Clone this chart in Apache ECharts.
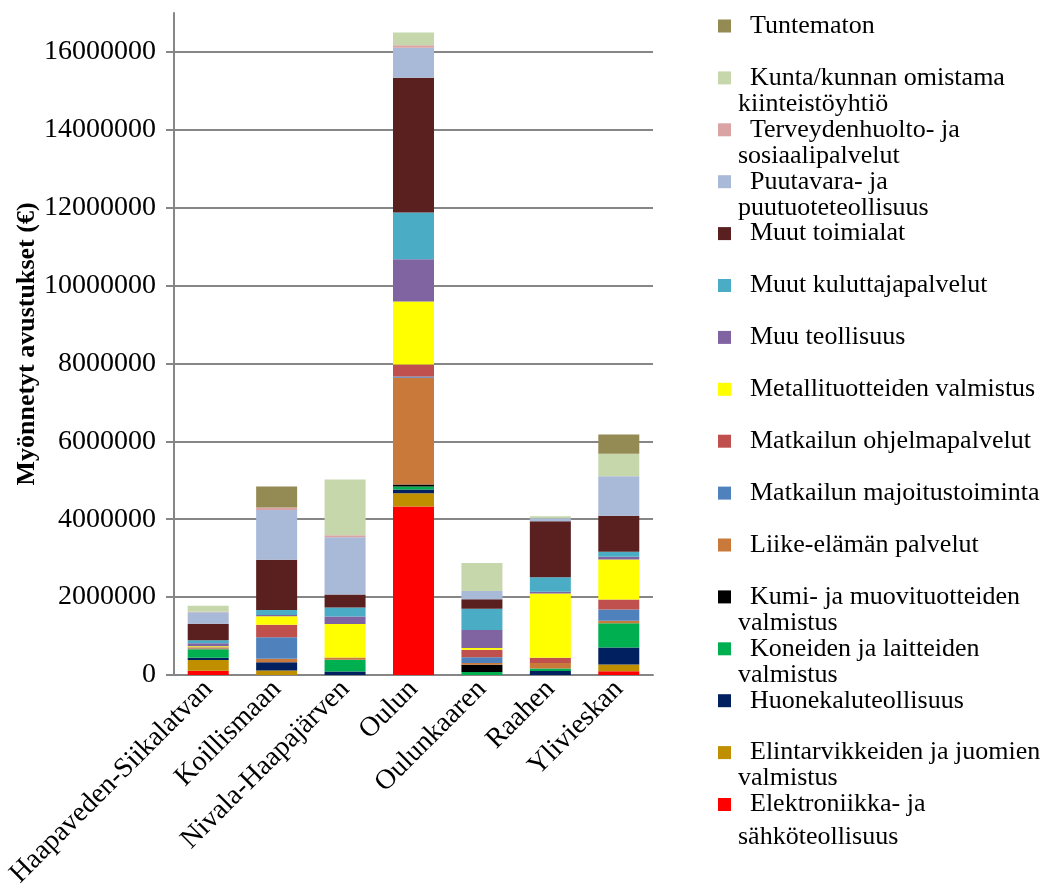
<!DOCTYPE html>
<html>
<head>
<meta charset="utf-8">
<script src="https://cdn.jsdelivr.net/npm/echarts@6/dist/echarts.min.js"></script>
<style>
  html, body { margin: 0; padding: 0; background: #fff; }
  #chart { width: 1053px; height: 888px; }
</style>
</head>
<body>
<div id="chart"></div>
<script>
// --------------------------------------------------------------
// Data
// --------------------------------------------------------------

const regions = ["Haapaveden-Siikalatvan", "Koillismaan", "Nivala-Haapajärven", "Oulun", "Oulunkaaren", "Raahen", "Ylivieskan"];

const elektroniikka = [110000, 0, 0, 4327000, 0, 0, 98000];
const elintarvikkeet = [275000, 115000, 0, 342000, 0, 0, 172000];
const huonekalut = [60000, 213000, 90000, 95000, 0, 100000, 437000];
const koneet = [215000, 0, 300000, 77000, 77000, 69000, 624000];
const kumi = [0, 0, 0, 51000, 187000, 0, 0];
const liikeElama = [25000, 87000, 60000, 2740000, 44000, 136000, 62000];
const majoitus = [15000, 555000, 0, 33000, 146000, 0, 290000];
const ohjelmapalvelut = [15000, 318000, 0, 308000, 195000, 136000, 257000];
const metalli = [25000, 221000, 858000, 1618000, 44000, 1654000, 1027000];
const muuTeollisuus = [77000, 30000, 195000, 1086000, 462000, 41000, 69000];
const kuluttajapalvelut = [77000, 128000, 231000, 1199000, 547000, 377000, 128000];
const muutToimialat = [420000, 1292000, 334000, 3459000, 241000, 1438000, 924000];
const puutavara = [300000, 1276000, 1471000, 770000, 213000, 77000, 1017000];
const terveys = [8000, 67000, 51000, 67000, 0, 0, 0];
const kunta = [155000, 0, 1430000, 326000, 720000, 51000, 575000];
const tuntematon = [0, 539000, 0, 0, 0, 0, 496000];

const yTicks = [0, 2000000, 4000000, 6000000, 8000000, 10000000, 12000000, 14000000, 16000000];

// series, bottom of the stack first
const seriesDefs = [
  ["Elektroniikka- ja sähköteollisuus", "#ff0000", elektroniikka],
  ["Elintarvikkeiden ja juomien valmistus", "#bf8f00", elintarvikkeet],
  ["Huonekaluteollisuus", "#002060", huonekalut],
  ["Koneiden ja laitteiden valmistus", "#00b050", koneet],
  ["Kumi- ja muovituotteiden valmistus", "#000000", kumi],
  ["Liike-elämän palvelut", "#c97a3a", liikeElama],
  ["Matkailun majoitustoiminta", "#4f81bd", majoitus],
  ["Matkailun ohjelmapalvelut", "#c0504d", ohjelmapalvelut],
  ["Metallituotteiden valmistus", "#ffff00", metalli],
  ["Muu teollisuus", "#8064a2", muuTeollisuus],
  ["Muut kuluttajapalvelut", "#4bacc6", kuluttajapalvelut],
  ["Muut toimialat", "#5a2020", muutToimialat],
  ["Puutavara- ja puutuoteteollisuus", "#a9b9d8", puutavara],
  ["Terveydenhuolto- ja sosiaalipalvelut", "#dba4a4", terveys],
  ["Kunta/kunnan omistama kiinteistöyhtiö", "#c6d7ab", kunta],
  ["Tuntematon", "#948a54", tuntematon],
];

// legend labels wrap like in the original: first line in the legend,
// second line drawn underneath (overlapping the next item's spacing)
const wrapped = {
  "Kunta/kunnan omistama kiinteistöyhtiö": ["Kunta/kunnan omistama", "kiinteistöyhtiö"],
  "Terveydenhuolto- ja sosiaalipalvelut": ["Terveydenhuolto- ja", "sosiaalipalvelut"],
  "Puutavara- ja puutuoteteollisuus": ["Puutavara- ja", "puutuoteteollisuus"],
  "Kumi- ja muovituotteiden valmistus": ["Kumi- ja muovituotteiden", "valmistus"],
  "Koneiden ja laitteiden valmistus": ["Koneiden ja laitteiden", "valmistus"],
  "Elintarvikkeiden ja juomien valmistus": ["Elintarvikkeiden ja juomien", "valmistus"],
  "Elektroniikka- ja sähköteollisuus": ["Elektroniikka- ja", "sähköteollisuus"],
};

const FONT = "Liberation Serif";
const FS = 26;
const AXIS_FS = 28;

// --------------------------------------------------------------
// Chart
// --------------------------------------------------------------

const chart = echarts.init(document.getElementById("chart"), null, {renderer: "canvas"});

const legendNames = seriesDefs.map((d) => d[0]).reverse();
const legendTop = 8;
const legendStep = 51.9;
const itemH = 26;

const secondLines = [];
legendNames.forEach((name, i) => {
  const parts = wrapped[name];
  if (!parts) return;
  const extra = name.startsWith("Elektroniikka") ? 40 : 33;
  secondLines.push({
    type: "text",
    left: 738,
    top: legendTop + i * legendStep + extra - 2,
    style: {text: parts[1], font: `${FS}px "${FONT}"`, fill: "#000"},
  });
});

const option = {
  animation: false,
  backgroundColor: "#fff",
  textStyle: {fontFamily: FONT},
  grid: {left: 174, right: 400, top: 13, bottom: 213, containLabel: false, outerBoundsMode: "none"},
  legend: {
    orient: "vertical",
    left: 713,
    top: legendTop,
    icon: "rect",
    itemWidth: 13,
    itemHeight: 13,
    itemGap: legendStep - itemH,
    data: legendNames,
    formatter: (name) => (wrapped[name] ? wrapped[name][0] : name),
    textStyle: {fontFamily: FONT, fontSize: FS, color: "#000", lineHeight: itemH, padding: [0, 0, 0, 14]},
  },
  xAxis: {
    type: "category",
    data: regions,
    axisLine: {lineStyle: {color: "#868686", width: 2}},
    axisTick: {show: false},
    axisLabel: {rotate: 45, interval: 0, margin: 10, fontFamily: FONT, fontSize: AXIS_FS, color: "#000"},
  },
  yAxis: {
    type: "value",
    min: 0,
    max: 17000000,
    interval: 2000000,
    name: "Myönnetyt avustukset (€)",
    nameLocation: "middle",
    nameGap: 131,
    nameTextStyle: {fontFamily: FONT, fontSize: FS, fontWeight: "bold", color: "#000"},
    axisLine: {show: true, lineStyle: {color: "#868686", width: 2}},
    axisTick: {show: true, inside: false, length: 8, lineStyle: {color: "#868686", width: 2}, customValues: yTicks},
    axisLabel: {
      fontFamily: FONT, fontSize: AXIS_FS, color: "#000", margin: 18, customValues: yTicks,
      formatter: (v) => String(v),
    },
    splitLine: {show: true, lineStyle: {color: "#868686", width: 2}},
  },
  series: seriesDefs.map(([name, color, data]) => ({
    name: name,
    type: "bar",
    stack: "total",
    barWidth: 41,
    itemStyle: {color: color},
    data: data,
  })),
  graphic: secondLines,
};

chart.setOption(option);
</script>
</body>
</html>
